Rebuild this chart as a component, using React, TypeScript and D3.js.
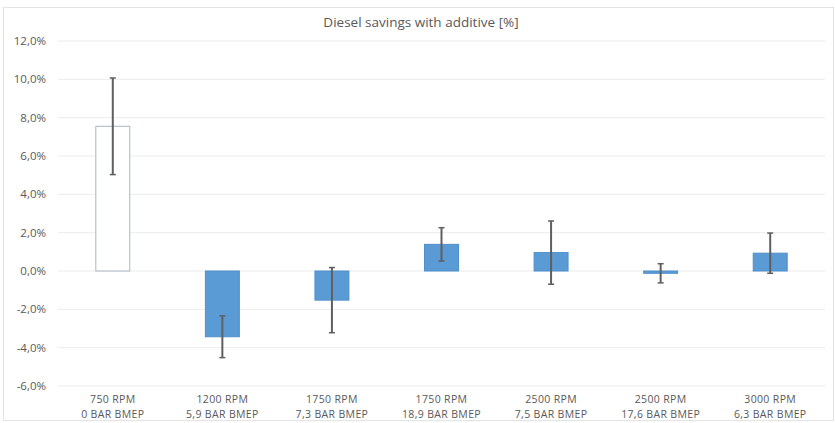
import React from "react";
import * as d3 from "d3";

const categories = [
  ["750 RPM", "0 BAR BMEP"],
  ["1200 RPM", "5,9 BAR BMEP"],
  ["1750 RPM", "7,3 BAR BMEP"],
  ["1750 RPM", "18,9 BAR BMEP"],
  ["2500 RPM", "7,5 BAR BMEP"],
  ["2500 RPM", "17,6 BAR BMEP"],
  ["3000 RPM", "6,3 BAR BMEP"],
];
const values = [7.55, -3.43, -1.52, 1.39, 0.96, -0.12, 0.93];
const errors = [2.52, 1.09, 1.7, 0.87, 1.65, 0.5, 1.05];
const yTicks = [-6, -4, -2, 0, 2, 4, 6, 8, 10, 12];
const title = "Diesel savings with additive [%]";

const W = 835;
const H = 423;
const left = 58;
const right = 825;
const top = 41;
const bottom = 386;

export default function App() {
  const x = d3
    .scaleBand<number>()
    .domain(d3.range(categories.length))
    .range([left, right])
    .paddingInner(0.69)
    .paddingOuter(0.345);
  const y = d3.scaleLinear().domain([-6, 12]).range([bottom, top]);
  const fmt = (v: number) => v.toFixed(1).replace(".", ",") + "%";
  const font = "'Open Sans', 'Liberation Sans', sans-serif";
  return (
    <svg
      width={W}
      height={H}
      style={{ position: "absolute", left: 0, top: 0, background: "#fff" }}
    >
      <rect x={3.5} y={7.5} width={830} height={413} fill="#fff" stroke="#e3e3e3" />
      <text
        x={421}
        y={27}
        textAnchor="middle"
        fontFamily={font}
        fontSize={13.5}
        fill="#595959"
      >
        {title}
      </text>
      {yTicks.map((t) => (
        <g key={t}>
          <line x1={left} x2={right} y1={y(t)} y2={y(t)} stroke="#ececec" strokeWidth={1} />
          <text
            x={46}
            y={y(t)}
            dy="0.35em"
            textAnchor="end"
            fontFamily={font}
            fontSize={11.5}
            fill="#595959"
          >
            {fmt(t)}
          </text>
        </g>
      ))}
      {values.map((v, i) => {
        const bx = x(i)!;
        const bw = x.bandwidth();
        const y0 = y(0);
        const y1 = y(v);
        const first = i === 0;
        return (
          <rect
            key={"b" + i}
            x={bx}
            y={Math.min(y0, y1)}
            width={bw}
            height={Math.max(Math.abs(y1 - y0), 1.5)}
            fill={first ? "#ffffff" : "#5b9bd5"}
            stroke={first ? "#a9b6c6" : "#4f8fcb"}
            strokeWidth={1}
          />
        );
      })}
      {values.map((v, i) => {
        const cx = x(i)! + x.bandwidth() / 2;
        const yt = y(v + errors[i]);
        const yb = y(v - errors[i]);
        return (
          <g key={"e" + i} stroke="#5f5f5f" strokeWidth={2}>
            <line x1={cx} x2={cx} y1={yt} y2={yb} />
            <line x1={cx - 3} x2={cx + 3} y1={yt} y2={yt} strokeWidth={1.5} />
            <line x1={cx - 3} x2={cx + 3} y1={yb} y2={yb} strokeWidth={1.5} />
          </g>
        );
      })}
      {categories.map((c, i) => {
        const cx = x(i)! + x.bandwidth() / 2;
        return (
          <g key={"c" + i}>
            <text
              x={cx}
              y={403}
              textAnchor="middle"
              fontFamily={font}
              fontSize={10.5}
              letterSpacing={0.35}
              fill="#595959"
            >
              {c[0]}
            </text>
            <text
              x={cx}
              y={417.5}
              textAnchor="middle"
              fontFamily={font}
              fontSize={10.5}
              letterSpacing={0.35}
              fill="#595959"
            >
              {c[1]}
            </text>
          </g>
        );
      })}
    </svg>
  );
}
